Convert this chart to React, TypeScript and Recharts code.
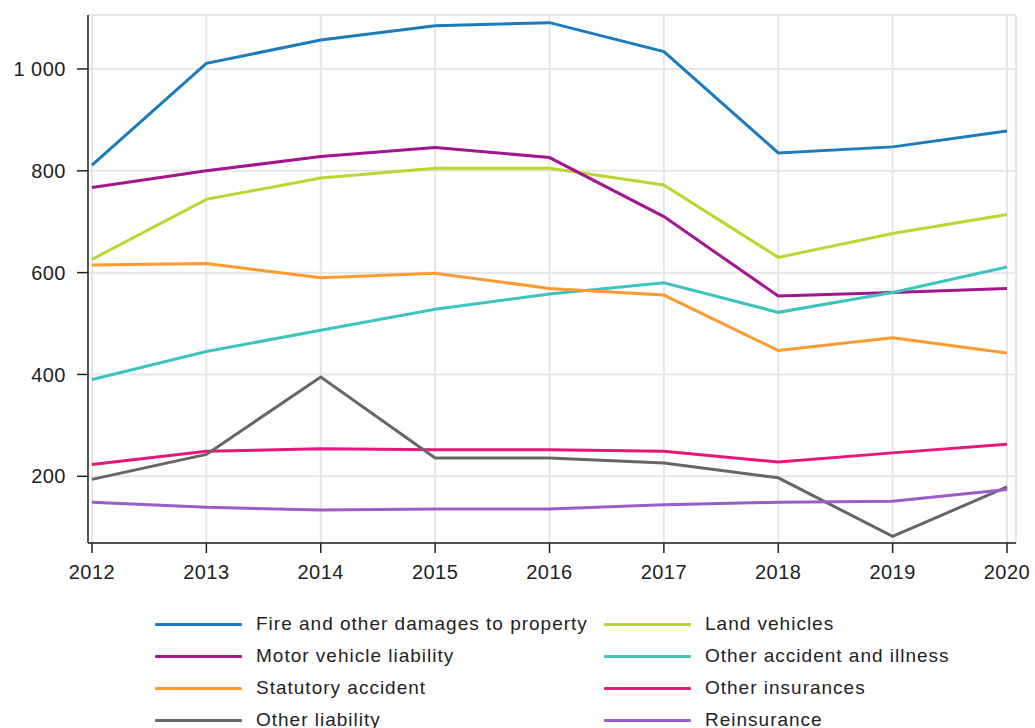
import React from "react";
import {
  LineChart,
  Line,
  XAxis,
  YAxis,
  CartesianGrid,
} from "recharts";

const years = ["2012", "2013", "2014", "2015", "2016", "2017", "2018", "2019", "2020"];

const fire = [811, 1011, 1057, 1085, 1091, 1034, 835, 847, 878];
const landVehicles = [626, 744, 786, 805, 805, 772, 630, 677, 714];
const motorLiability = [767, 800, 828, 846, 826, 710, 554, 561, 569];
const otherAccident = [390, 445, 487, 528, 558, 580, 522, 561, 611];
const statutory = [615, 618, 590, 599, 569, 556, 447, 472, 442];
const otherInsurances = [223, 249, 254, 252, 252, 249, 228, 246, 263];
const otherLiability = [194, 243, 395, 236, 236, 226, 197, 82, 179];
const reinsurance = [149, 139, 134, 136, 136, 144, 149, 151, 174];

const yTicks = [200, 400, 600, 800, 1000];

const series = [
  { key: "fire", name: "Fire and other damages to property", values: fire, color: "#1b7bbd" },
  { key: "land", name: "Land vehicles", values: landVehicles, color: "#bcd630" },
  { key: "motor", name: "Motor vehicle liability", values: motorLiability, color: "#a3168e" },
  { key: "accident", name: "Other accident and illness", values: otherAccident, color: "#3cc4bd" },
  { key: "statutory", name: "Statutory accident", values: statutory, color: "#ff9a2e" },
  { key: "otherIns", name: "Other insurances", values: otherInsurances, color: "#e8167a" },
  { key: "otherLiab", name: "Other liability", values: otherLiability, color: "#666666" },
  { key: "reins", name: "Reinsurance", values: reinsurance, color: "#9b5cc9" },
];

const data = years.map((year, i) => {
  const row: Record<string, string | number> = { year };
  series.forEach((s) => {
    row[s.key] = s.values[i];
  });
  return row;
});

const font = "'Liberation Sans', Arial, sans-serif";

const formatTick = (v: number) =>
  v >= 1000 ? `${Math.floor(v / 1000)} ${String(v % 1000).padStart(3, "0")}` : String(v);

export default function App() {
  // fixed so that the legend running past the bottom edge doesn't add scrollbars
  return (
    <div
      style={{
        position: "fixed",
        left: 0,
        top: 0,
        width: 1035,
        height: 728,
        overflow: "hidden",
        fontFamily: font,
        background: "#fff",
      }}
    >
      <LineChart
        width={1035}
        height={603}
        data={data}
        margin={{ top: 15, right: 19, left: 8, bottom: 0 }}
      >
        <CartesianGrid stroke="#e6e6e6" strokeWidth={2} />
        <XAxis
          dataKey="year"
          height={60}
          padding={{ left: 4, right: 9 }}
          tickSize={10}
          tickMargin={12}
          stroke="#222"
          strokeWidth={1.5}
          tick={{ fill: "#222", fontSize: 20, fontFamily: font, letterSpacing: 0.5 }}
          interval={0}
        />
        <YAxis
          width={80}
          domain={[69, 1106]}
          ticks={yTicks}
          tickFormatter={formatTick}
          tickSize={11}
          tickMargin={11}
          stroke="#222"
          strokeWidth={1.5}
          tick={{ fill: "#222", fontSize: 20, fontFamily: font, letterSpacing: 0.5 }}
        />
        {series.map((s) => (
          <Line
            key={s.key}
            type="linear"
            dataKey={s.key}
            name={s.name}
            stroke={s.color}
            strokeWidth={3}
            dot={false}
            activeDot={false}
            isAnimationActive={false}
          />
        ))}
      </LineChart>
      <div
        style={{
          display: "grid",
          gridTemplateColumns: "449px 449px",
          paddingLeft: 155,
          paddingTop: 5,
        }}
      >
        {series.map((s) => (
          <div
            key={s.key}
            style={{ display: "flex", alignItems: "center", height: 32 }}
          >
            <div
              style={{
                width: 87,
                height: 3,
                background: s.color,
                marginRight: 14,
                borderRadius: 1,
              }}
            />
            <span
              style={{
                fontSize: 19,
                letterSpacing: 1,
                color: "#222",
                whiteSpace: "nowrap",
              }}
            >
              {s.name}
            </span>
          </div>
        ))}
      </div>
    </div>
  );
}
